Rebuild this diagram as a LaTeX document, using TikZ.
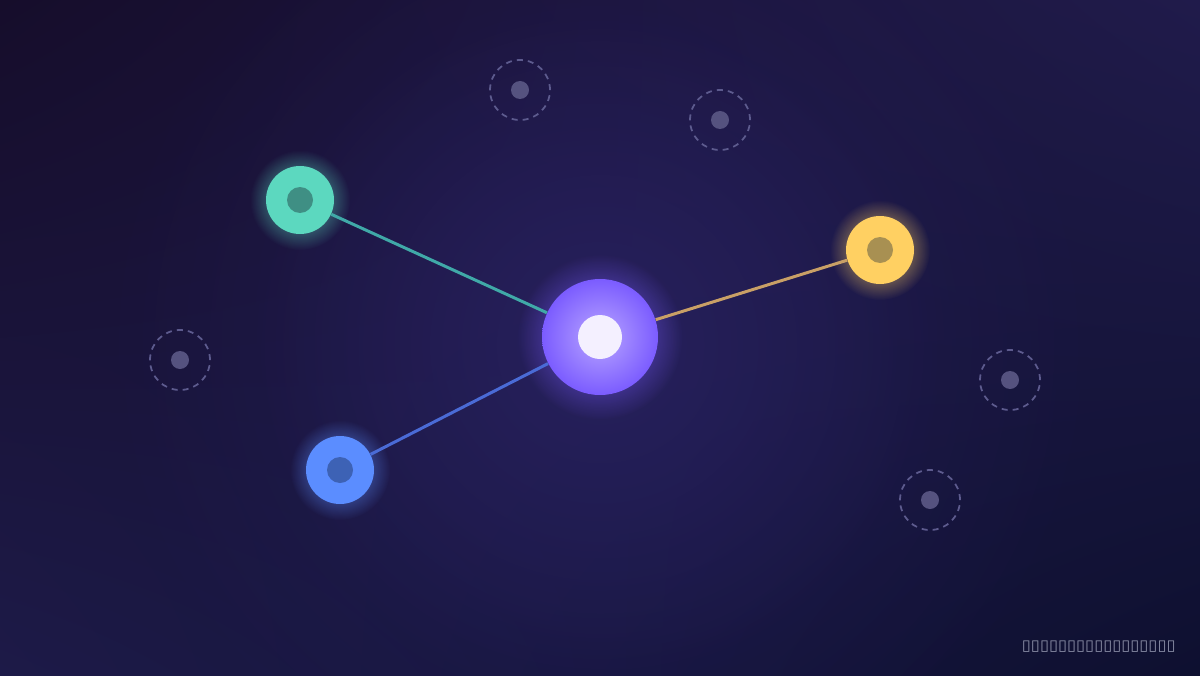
\documentclass[tikz,border=0pt]{standalone}
\usepackage{fontspec}
\newfontfamily\boxfont[FakeStretch=1.1]{DejaVu Sans}
\usetikzlibrary{fadings,shadings}

\definecolor{bgtl}{HTML}{160D2B}
\definecolor{bgtr}{HTML}{201B4B}
\definecolor{bgbl}{HTML}{1D1A48}
\definecolor{bgbr}{HTML}{0E1030}
\definecolor{glowc}{HTML}{2B2466}
\definecolor{hubout}{HTML}{7B5CFF}
\definecolor{hubin}{HTML}{B9A6FF}
\definecolor{hubcore}{HTML}{F4F0FF}
\definecolor{tealc}{HTML}{5CD8BF}
\definecolor{tealcore}{HTML}{3F8F84}
\definecolor{tealline}{HTML}{40A9A8}
\definecolor{goldc}{HTML}{FFD062}
\definecolor{goldcore}{HTML}{A89052}
\definecolor{goldline}{HTML}{C9A066}
\definecolor{bluec}{HTML}{5B8DFF}
\definecolor{bluecore}{HTML}{3D62B5}
\definecolor{blueline}{HTML}{4A6BD6}
\definecolor{ringc}{HTML}{5D5B8E}
\definecolor{dotc}{HTML}{55527F}
\definecolor{notec}{HTML}{8C90A8}

\tikzfading[name=glowfade, inner color=transparent!0, outer color=transparent!100]

\tikzset{
  sat/.style={circle, inner sep=0pt, minimum size=1.36cm, fill=#1},
  satcore/.style={circle, inner sep=0pt, minimum size=0.52cm, fill=#1},
  link/.style={line width=1.7pt, draw=#1},
  ghost/.style={circle, inner sep=0pt, minimum size=1.2cm, draw=ringc,
    line width=1pt, dash pattern=on 3.4pt off 2.9pt},
  ghostdot/.style={circle, inner sep=0pt, minimum size=0.36cm, fill=dotc}
}

\begin{document}
\begin{tikzpicture}
    % background
    \shade[shading=bilinear interpolation, upper left=bgtl,
      upper right=bgtr, lower left=bgbl, lower right=bgbr]
      (0,0) rectangle (24,13.5);
    \useasboundingbox (0,0) rectangle (24,13.5);
    \fill[glowc, path fading=glowfade, opacity=0.6] (12,6.6) circle (7);
    \fill[glowc, path fading=glowfade, opacity=0.5] (12,6.6) circle (10);

    \coordinate (p-hub) at (12,6.76);
    \coordinate (p-teal) at (6,9.5);
    \coordinate (p-gold) at (17.6,8.5);
    \coordinate (p-blue) at (6.8,4.1);

    % halos
    \fill[hubout, path fading=glowfade, opacity=0.9] (p-hub) circle (1.65);
    \fill[tealc, path fading=glowfade, opacity=0.9] (p-teal) circle (1.0);
    \fill[goldc, path fading=glowfade, opacity=0.9] (p-gold) circle (1.0);
    \fill[bluec, path fading=glowfade, opacity=0.9] (p-blue) circle (1.0);

    % dashed placeholders
    \foreach \x/\y [count=\i] in {10.4/11.7, 14.4/11.1, 3.6/6.3, 20.2/5.9,
      18.6/3.5} {
      \node[ghost] (ghost-\i) at (\x,\y) {};
      \node[ghostdot] (ghostdot-\i) at (ghost-\i) {};
    }

    % nodes
    \node[circle, inner sep=0pt, minimum size=2.32cm, inner color=hubin,
      outer color=hubout] (hub) at (p-hub) {};
    \node[circle, inner sep=0pt, minimum size=0.88cm, fill=hubcore]
      (hubdot) at (hub) {};
    \node[sat=tealc] (teal) at (p-teal) {};
    \node[satcore=tealcore] (tealdot) at (teal) {};
    \node[sat=goldc] (gold) at (p-gold) {};
    \node[satcore=goldcore] (golddot) at (gold) {};
    \node[sat=bluec] (blue) at (p-blue) {};
    \node[satcore=bluecore] (bluedot) at (blue) {};

    % links
    \draw[link=tealline] (hub) -- (teal);
    \draw[link=goldline] (hub) -- (gold);
    \draw[link=blueline] (hub) -- (blue);

    \node[anchor=east, inner sep=0pt, text=notec, font=\boxfont\fontsize{8.5}{10}\selectfont]
      (note) at (23.52,0.56) {▯▯▯▯▯▯▯▯▯▯▯▯▯▯▯▯▯};
  \end{tikzpicture}
\end{document}
